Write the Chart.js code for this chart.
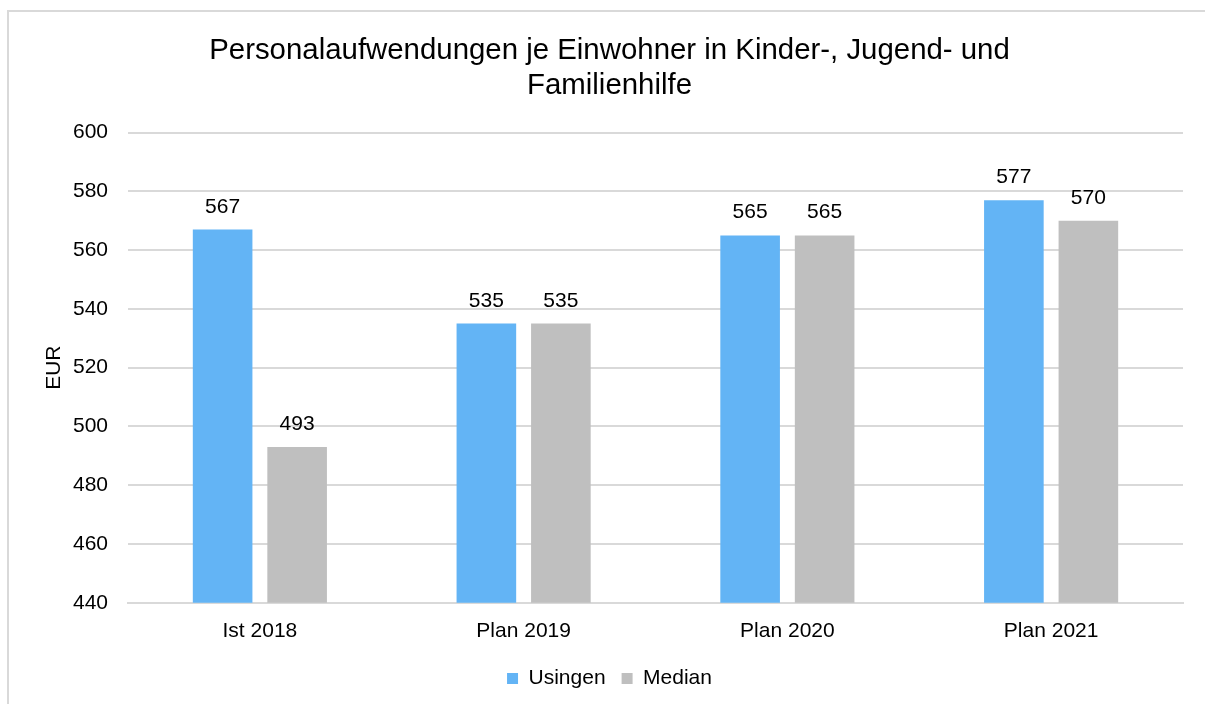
<!DOCTYPE html>
<html>
<head>
<meta charset="utf-8">
<script src="https://cdn.jsdelivr.net/npm/chart.js@4/dist/chart.umd.min.js"></script>
<style>
  html, body { margin: 0; padding: 0; background: #fff; overflow: hidden; }
  #frame { position: absolute; left: 7px; top: 10px; width: 1220px; height: 720px; border: 2px solid #d9d9d9; box-sizing: border-box; }
  #wrap { position: absolute; left: 0; top: 0; width: 1205px; height: 704px; }
</style>
</head>
<body>
<div id="frame"></div>
<div id="wrap"><canvas id="chartPersonal"></canvas></div>
<script>
// Personalaufwendungen je Einwohner (EUR)
const kategorien = ["Ist 2018", "Plan 2019", "Plan 2020", "Plan 2021"];
const usingen = [567, 535, 565, 577];
const median = [493, 535, 565, 570];
const yTicks = [440, 460, 480, 500, 520, 540, 560, 580, 600];

const schrift = "'Liberation Sans', Arial, sans-serif";

// Werte über die Balken schreiben
const wertLabels = {
    id: "wertLabels",
    afterDatasetsDraw(chart) {
        const ctx = chart.ctx;
        ctx.save();
        ctx.font = "21px " + schrift;
        ctx.fillStyle = "#000";
        ctx.textAlign = "center";
        ctx.textBaseline = "alphabetic";
        chart.data.datasets.forEach((ds, i) => {
            chart.getDatasetMeta(i).data.forEach((bar, j) => {
                ctx.fillText(ds.data[j], bar.x, bar.y - 17);
            });
        });
        ctx.restore();
    }
};

const ctx = document.getElementById("chartPersonal");
new Chart(ctx, {
    type: "bar",
    data: {
        labels: kategorien,
        datasets: [
            { label: "Usingen", data: usingen, backgroundColor: "#63b4f5" },
            { label: "Median", data: median, backgroundColor: "#bfbfbf" }
        ]
    },
    options: {
        responsive: true,
        maintainAspectRatio: false,
        animation: false,
        datasets: {
            bar: { categoryPercentage: 0.565, barPercentage: 0.8 }
        },
        layout: { padding: { left: 36, right: 22, top: 33, bottom: 5 } },
        plugins: {
            title: {
                display: true,
                text: ["Personalaufwendungen je Einwohner in Kinder-, Jugend- und", "Familienhilfe"],
                color: "#000",
                font: { family: schrift, size: 29.4, weight: "normal", lineHeight: 1.2 },
                padding: { top: 0, bottom: 29 }
            },
            legend: {
                position: "bottom",
                labels: {
                    color: "#000",
                    font: { family: schrift, size: 21 },
                    boxWidth: 11,
                    boxHeight: 11,
                    padding: 16
                }
            },
            tooltip: { enabled: false }
        },
        scales: {
            x: {
                grid: { display: false },
                border: { display: true, color: "#d9d9d9", width: 2 },
                ticks: { color: "#000", font: { family: schrift, size: 21 }, padding: 8 }
            },
            y: {
                min: 440,
                max: 600,
                afterBuildTicks(axis) { axis.ticks = yTicks.map(v => ({ value: v })); },
                afterFit(axis) { axis.width = 92; },
                grid: { color: "#d9d9d9", lineWidth: 2, drawTicks: false },
                border: { display: false },
                ticks: { color: "#000", font: { family: schrift, size: 21 }, padding: 20 },
                title: { display: true, text: "EUR", color: "#000", font: { family: schrift, size: 21 }, padding: { top: 6, bottom: 0 } }
            }
        }
    },
    plugins: [wertLabels]
});
</script>
</body>
</html>
